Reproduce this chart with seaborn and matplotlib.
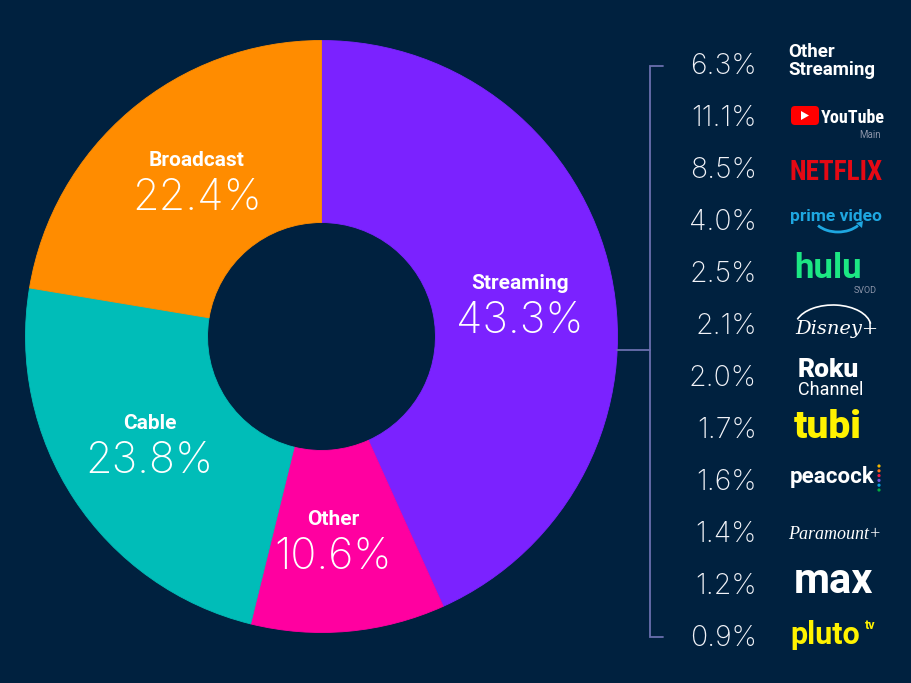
import numpy as np
import matplotlib
matplotlib.use('Agg')
import matplotlib.pyplot as plt
import seaborn as sns
from matplotlib.patches import FancyBboxPatch, Polygon, Arc, Circle

# ------------------------
# Data
# ------------------------
segments = ['Streaming', 'Other', 'Cable', 'Broadcast']
shares = [43.3, 10.6, 23.8, 22.4]
seg_colors = ['#7b22ff', '#ff00a0', '#00bdb8', '#ff8c00']

services = ['Other Streaming', 'YouTube', 'Netflix', 'Prime Video', 'Hulu', 'Disney+',
            'Roku Channel', 'Tubi', 'Peacock', 'Paramount+', 'Max', 'Pluto TV']
service_shares = [6.3, 11.1, 8.5, 4.0, 2.5, 2.1, 2.0, 1.7, 1.6, 1.4, 1.2, 0.9]

BG = '#00213f'
W, H = 912, 683

sns.set_theme(style='white', rc={'figure.facecolor': BG, 'axes.facecolor': BG,
                                 'savefig.facecolor': BG})
plt.rcParams['font.family'] = ['Roboto', 'DejaVu Sans']
num_font = ['Inter', 'Roboto', 'DejaVu Sans']

fig = plt.figure(figsize=(W / 100, H / 100), dpi=100)

# ------------------------
# Donut
# ------------------------
cx, cy, R = 321.5, 336.5, 296
pad = 1.03
ax = fig.add_axes([(cx - R * pad) / W, (H - cy - R * pad) / H, 2 * R * pad / W, 2 * R * pad / H])
wedges, _ = ax.pie(shares, colors=seg_colors, startangle=90, counterclock=False, radius=1,
                   wedgeprops=dict(width=0.615, linewidth=0.6))
for w, c in zip(wedges, seg_colors):
    w.set_edgecolor(c)
ax.set_xlim(-pad, pad)
ax.set_ylim(-pad, pad)
ax.set_aspect('equal')
ax.axis('off')

px = 1 / R  # one pixel in data units
for w, name, val in zip(wedges, segments, shares):
    # labels sit a little before the bisector of each wedge
    ang = np.deg2rad((w.theta1 + w.theta2) / 2 - 2)
    x, y = 0.68 * np.cos(ang), 0.68 * np.sin(ang)
    ax.text(x, y + 12 * px, name, ha='center', va='baseline', fontsize=15,
            fontweight='bold', color='white')
    ax.text(x, y - 32 * px, f'{val}%', ha='center', va='baseline', fontsize=31,
            fontweight='light', color='white', family=num_font)

# ------------------------
# Right panel (pixel coords)
# ------------------------
ov = fig.add_axes([0, 0, 1, 1], zorder=3)
ov.set_xlim(0, W)
ov.set_ylim(H, 0)
ov.axis('off')
ov.patch.set_alpha(0)

row_y = 64 + 52 * np.arange(len(services))
line_c = '#6a6fae'
bx = 650
ov.plot([bx + 13, bx, bx, bx + 13], [row_y[0] + 2, row_y[0] + 2, row_y[-1] + 1, row_y[-1] + 1],
        color=line_c, lw=1.3, solid_joinstyle='miter')
mid = (row_y[0] + row_y[-1]) / 2
ov.plot([cx + R, bx], [mid, mid], color=line_c, lw=1.3)

for y, v in zip(row_y, service_shares):
    ov.text(757, y + 10.5, f'{v:.1f}%', ha='right', va='baseline', fontsize=20.5,
            fontweight='light', color='#f2f3f8', family=num_font)

LX = 788
grey = '#8a93a8'
narrow = ['Roboto Condensed', 'Roboto', 'DejaVu Sans']

# Other Streaming
y = row_y[0]
ov.text(LX, y - 7, 'Other', fontsize=13.5, fontweight='bold', color='white', va='baseline')
ov.text(LX, y + 11, 'Streaming', fontsize=13.5, fontweight='bold', color='white', va='baseline')

# YouTube
y = row_y[1]
ov.add_patch(FancyBboxPatch((791, y - 10), 28, 19, boxstyle='round,pad=0,rounding_size=4',
                            fc='#ff0000', ec='none'))
ov.add_patch(Polygon([[801, y - 5], [801, y + 4], [809, y - 0.5]], closed=True, fc='white', ec='none'))
ov.text(821, y + 7, 'YouTube', fontsize=13, fontweight='bold', color='white', va='baseline',
        family=narrow)
ov.text(881, y + 22, 'Main', fontsize=7, color=grey, va='baseline', ha='right')

# Netflix
y = row_y[2]
ov.text(790, y + 12, 'NETFLIX', fontsize=19.5, fontweight='black', color='#e50914', va='baseline',
        family=narrow)

# Prime Video
y = row_y[3]
pc = '#1ea7e1'
ov.text(790, y + 1, 'prime video', fontsize=12.5, fontweight='bold', color=pc, va='baseline')
ov.add_patch(Arc((838, y - 6), 52, 36, theta1=30, theta2=150, color=pc, lw=2))
ov.add_patch(Polygon([[856, y + 3], [863, y + 1], [862, y + 8]], closed=True, fc=pc, ec='none'))

# Hulu
y = row_y[4]
ov.text(794, y + 6, 'hulu', fontsize=25, fontweight='bold', color='#1ce783', va='baseline')
ov.text(877, y + 21, 'SVOD', fontsize=6.5, color=grey, va='baseline', ha='right')

# Disney+
y = row_y[5]
ov.add_patch(Arc((833, y + 3), 76, 44, theta1=192, theta2=355, color='white', lw=1.2))
ov.text(795, y + 10, 'Disney+', fontsize=14, style='italic', color='white', va='baseline',
        family=['DejaVu Serif'])

# Roku Channel
y = row_y[6]
ov.text(798, y + 1, 'Roku', fontsize=19, fontweight='black', color='white', va='baseline')
ov.text(798, y + 19, 'Channel', fontsize=13, color='white', va='baseline')

# Tubi
y = row_y[7]
ov.text(794, y + 10, 'tubi', fontsize=28, fontweight='black', color='#fff200', va='baseline')

# Peacock
y = row_y[8]
ov.text(790, y + 3, 'peacock', fontsize=16, fontweight='bold', color='white', va='baseline')
for k, c in enumerate(['#f5b800', '#ff7112', '#ef1541', '#6e55dc', '#069de0', '#05ac3f']):
    ov.add_patch(Circle((879, y - 14 + k * 4.8), 1.6, fc=c, ec='none'))

# Paramount+
y = row_y[9]
ov.text(788, y + 7, 'Paramount+', fontsize=13, style='italic', color='white', va='baseline',
        family=['Liberation Serif', 'DejaVu Serif'])

# Max
y = row_y[10]
ov.text(794, y + 9, 'max', fontsize=30, fontweight='bold', color='white', va='baseline')

# Pluto TV
y = row_y[11]
ov.text(790, y + 8, 'pluto', fontsize=22, fontweight='bold', color='#fff200', va='baseline')
ov.text(865, y - 7, 'tv', fontsize=9, fontweight='bold', color='#fff200', va='baseline')

fig.savefig('out.png', dpi=100, facecolor=BG)
plt.close(fig)
